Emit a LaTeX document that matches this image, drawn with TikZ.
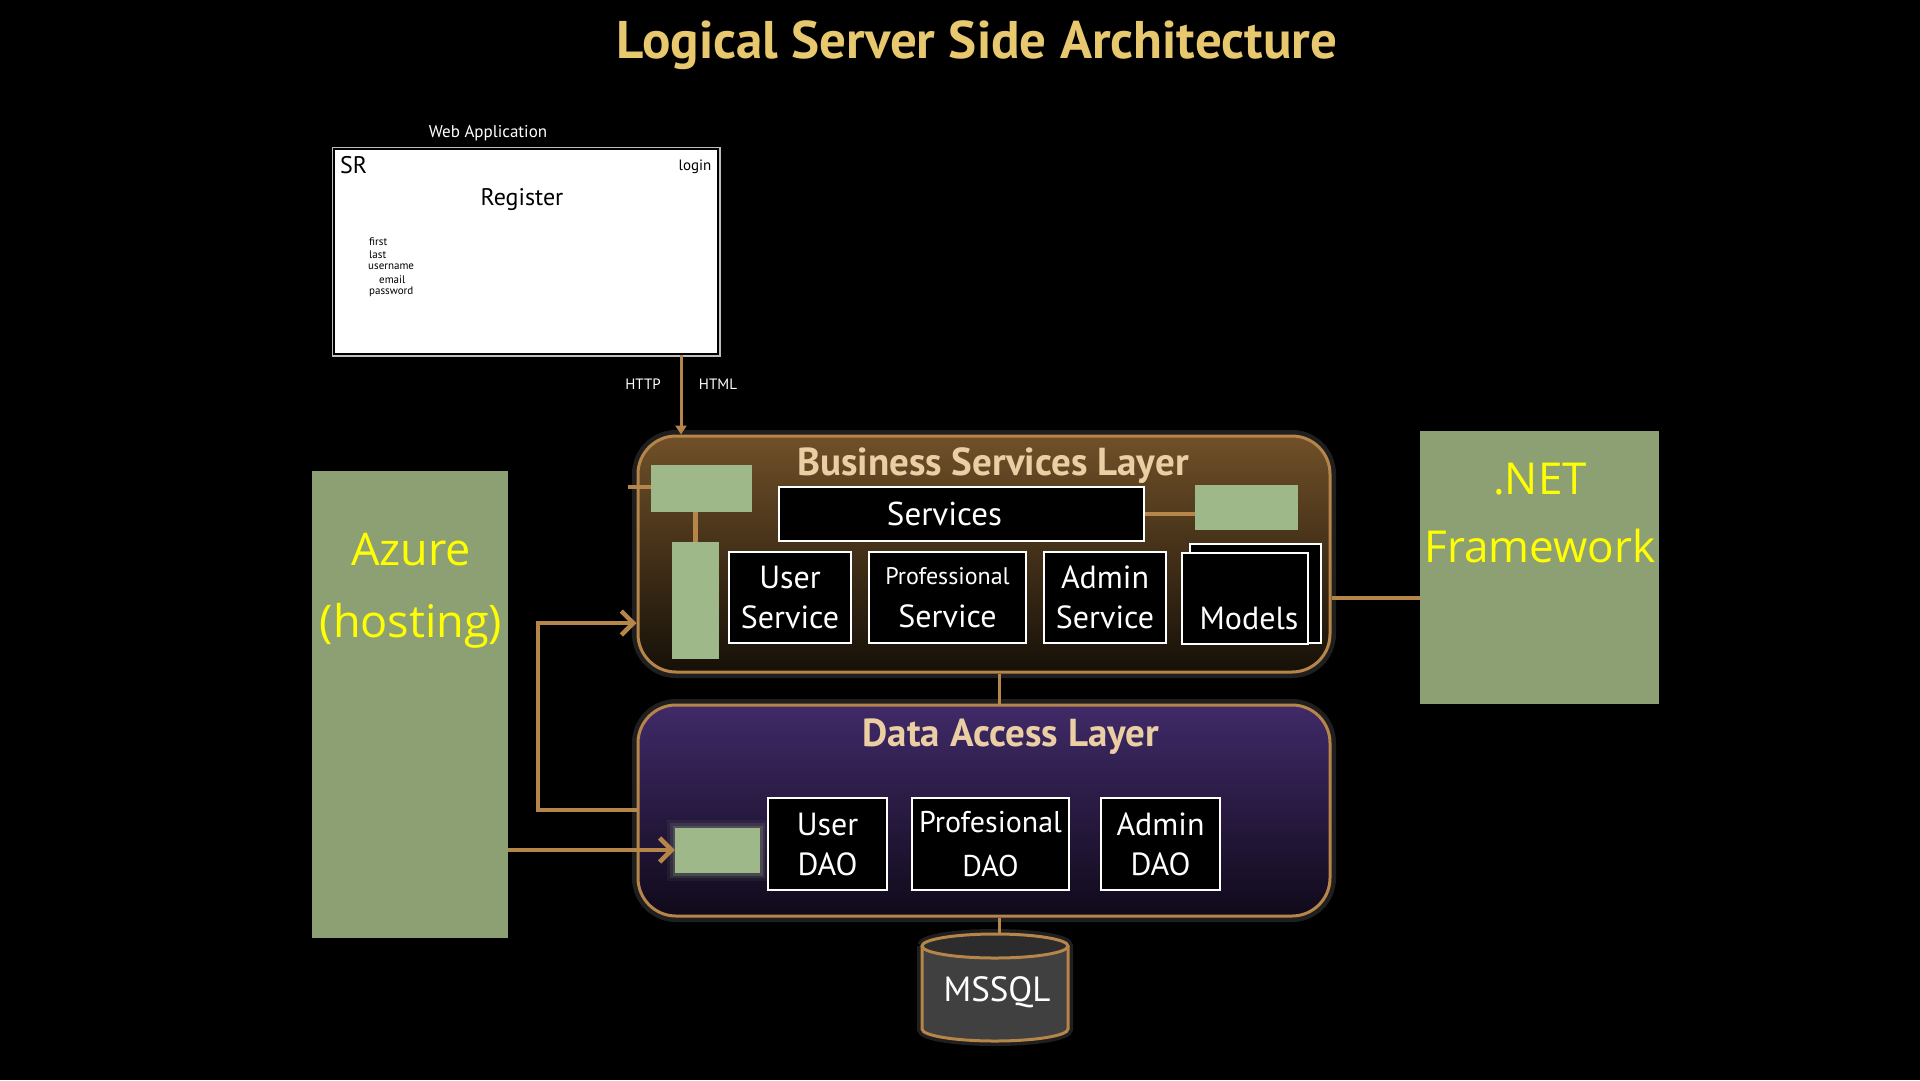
\documentclass[tikz,border=0pt]{standalone}
\usepackage{fontspec}
\setmainfont{PT Sans}
\newfontfamily\segoe{Open Sans}
\usetikzlibrary{arrows.meta,calc}
\definecolor{tanc}{RGB}{181,133,74}
\definecolor{lgreen}{RGB}{158,184,138}
\definecolor{glowg}{RGB}{190,215,170}
\definecolor{dgreen}{RGB}{140,160,116}
\definecolor{titlegold}{RGB}{232,200,110}
\definecolor{layertxt}{RGB}{236,206,164}
\definecolor{bsltop}{RGB}{112,80,40}
\definecolor{bslbot}{RGB}{22,16,8}
\definecolor{daltop}{RGB}{64,42,104}
\definecolor{dalbot}{RGB}{16,10,26}
\definecolor{dbgray}{RGB}{64,64,64}
\definecolor{dbtopc}{RGB}{44,44,44}
\definecolor{yel}{RGB}{255,255,0}
\newcommand\fsz[2]{\fontsize{#1}{#2}\selectfont}
\begin{document}
\begin{tikzpicture}[x=1pt,y=-1pt,
  layer/.style={draw=tanc, line width=3pt, rounded corners=38pt, shading=axis,
    preaction={draw=white, draw opacity=.12, line width=12pt}},
  layertitle/.style={text=layertxt, font=\bfseries\fsz{39}{44}, inner sep=0pt},
  gbox/.style={fill=lgreen, draw=none, inner sep=0pt},
  bigg/.style={fill=dgreen, draw=none, inner sep=0pt},
  wbox/.style={fill=black, draw=white, line width=2pt, text=white, align=center, inner sep=0pt},
  conn/.style={draw=tanc, line width=4.5pt},
  barb/.style={conn, -{Straight Barb[length=12pt, width=24pt]}},
  thin/.style={draw=tanc, line width=3pt},
  small/.style={inner sep=0pt, text=black},
  ytext/.style={text=yel, font=\segoe\fsz{45}{50}, inner sep=0pt}
]
\fill[black] (0,0) rectangle (1920,1080);
\useasboundingbox (0,0) rectangle (1920,1080);

% title
\node[font=\bfseries\fsz{53}{58}, text=titlegold, inner sep=0pt] (title) at (977,45) {Logical Server Side Architecture};

% web application
\node[text=white, font=\fsz{17}{20}, inner sep=0pt] (weblabel) at (488,133) {Web Application};
\node[fill=white, draw=black, line width=1.5pt, preaction={draw=lightgray, line width=5pt},
  minimum width=384pt, minimum height=205pt, inner sep=0pt] (webapp) at (526,251.5) {};
\node[small, font=\fsz{24}{26}, anchor=west] (sr) at (340,165) {SR};
\node[small, font=\fsz{15}{17}] (login) at (695,167) {login};
\node[small, font=\fsz{24}{26}] (register) at (522,200) {Register};
\node[small, font=\fsz{11}{12}, anchor=west] (ffirst) at (369,242) {first};
\node[small, font=\fsz{11}{12}, anchor=west] (flast) at (369,255) {last};
\node[small, font=\fsz{11}{12}, anchor=west] (fuser) at (368,267) {username};
\node[small, font=\fsz{11}{12}, anchor=west] (femail) at (379,280) {email};
\node[small, font=\fsz{11}{12}, anchor=west] (fpass) at (369,292) {password};

\node[text=white, font=\fsz{15}{17}, inner sep=0pt] (http) at (643,384) {HTTP};
\node[text=white, font=\fsz{15}{17}, inner sep=0pt] (html) at (718,384) {HTML};

% Azure
\node[bigg, minimum width=196pt, minimum height=467pt] (azure) at (410,704.5) {};
\node[ytext] (azt1) at (411,550) {Azure};
\node[ytext] (azt2) at (411,626) {(hosting)};

% .NET
\node[bigg, minimum width=239pt, minimum height=273pt] (dotnet) at (1539.5,567.5) {};
\node[ytext, font=\segoe\fsz{44}{50}] (nt1) at (1540,479) {.NET};
\node[ytext, font=\segoe\fsz{44}{50}] (nt2) at (1540,546) {Framework};

% Business services layer
\node[layer, top color=bsltop, bottom color=bslbot, minimum width=692pt, minimum height=236pt] (bsl) at (984,554) {};
\node[layertitle] (bsltitle) at (993,466) {Business Services Layer};
\node[gbox, minimum width=101pt, minimum height=47pt] (bg1) at (701.5,488.5) {};
\node[gbox, minimum width=47pt, minimum height=117pt] (bg2) at (695.5,600.5) {};
\node[gbox, minimum width=103pt, minimum height=45pt] (bg3) at (1246.5,507.5) {};
\node[wbox, minimum width=365pt, minimum height=54pt, font=\fsz{33}{40}] (services) at (961.5,514) {Services\hspace{34pt}};
\node[wbox, minimum width=122pt, minimum height=91pt, font=\fsz{32}{40}] (userserv) at (790,597.5) {User\\Service};
\node[wbox, minimum width=157pt, minimum height=91pt, font=\fsz{32}{43}] (profserv) at (947.5,597.5) {{\fsz{24}{40}Professional}\\Service};
\node[wbox, minimum width=122pt, minimum height=91pt, font=\fsz{32}{40}] (adminserv) at (1105,597.5) {Admin\\Service};
\node[wbox, minimum width=131pt, minimum height=99pt] (objback) at (1255.5,593.5) {};
\node[wbox, minimum width=126pt, minimum height=91pt, font=\fsz{32}{40}] (objfront) at (1245,598.5) {\phantom{Object}\\\hspace*{8pt}Models};

% Data access layer
\node[layer, top color=daltop, bottom color=dalbot, minimum width=692pt, minimum height=211pt] (dal) at (984,810.5) {};
\node[layertitle] (daltitle) at (1011,737) {Data Access Layer};
\node[gbox, minimum width=85pt, minimum height=45pt,
  preaction={draw=glowg, draw opacity=.06, line width=16pt, rounded corners=6pt},
  preaction={draw=glowg, draw opacity=.10, line width=10pt, rounded corners=4pt},
  preaction={draw=glowg, draw opacity=.16, line width=5pt}] (dalg) at (717.5,850.5) {};
\node[wbox, minimum width=119pt, minimum height=92pt, font=\fsz{32}{40}] (userdao) at (827.5,844) {User\\DAO};
\node[wbox, minimum width=157pt, minimum height=92pt, font=\fsz{30}{44}] (profdao) at (990.5,844) {Profesional\\DAO};
\node[wbox, minimum width=119pt, minimum height=92pt, font=\fsz{32}{40}] (admindao) at (1160.5,844) {Admin\\DAO};

% MSSQL cylinder
\draw[draw=white, draw opacity=.12, line width=10pt] (922,946) -- (922,1029) arc[start angle=180, end angle=360, x radius=73pt, y radius=12pt] -- (1068,946) arc[start angle=0, end angle=180, x radius=73pt, y radius=12pt];
\fill[dbgray] (922,946) -- (922,1029) arc[start angle=180, end angle=360, x radius=73pt, y radius=12pt] -- (1068,946) -- cycle;
\draw[thin] (922,946) -- (922,1029) arc[start angle=180, end angle=360, x radius=73pt, y radius=12pt] -- (1068,946);
\filldraw[fill=dbtopc, draw=tanc, line width=3pt] (995,946) ellipse [x radius=73pt, y radius=12pt];
\node[text=white, font=\fsz{35}{40}, inner sep=0pt] (mssql) at (997,992) {MSSQL};
\coordinate (dbtop) at (999,934);

% connectors
\coordinate (wx) at (681,0);
\draw[thin, -{Triangle[length=9pt, width=11pt]}] (webapp.south -| wx) -- (bsl.north -| wx);
\coordinate (cx) at (999,0);
\draw[thin] (bsl.south -| cx) -- (dal.north -| cx);
\draw[thin] (dal.south -| cx) -- (dbtop);
\coordinate (ny) at (0,598);
\draw[conn] (bsl.east |- ny) -- (dotnet.west |- ny);
\draw[conn] (services.east) -- (bg3.west |- services.east);
\draw[conn] (bg1.south -| bg2) -- (bg2.north);
\coordinate (stub) at (628,487);
\draw[conn] (stub) -- (bg1.west |- stub);
\coordinate (lp) at (538,810);
\coordinate (la) at (0,623);
\draw[barb] (dal.west |- lp) -- (lp) |- (bsl.west |- la);
\coordinate (az) at (0,850);
\draw[barb] (azure.east |- az) -- (dalg.west |- az);
\end{tikzpicture}
\end{document}
